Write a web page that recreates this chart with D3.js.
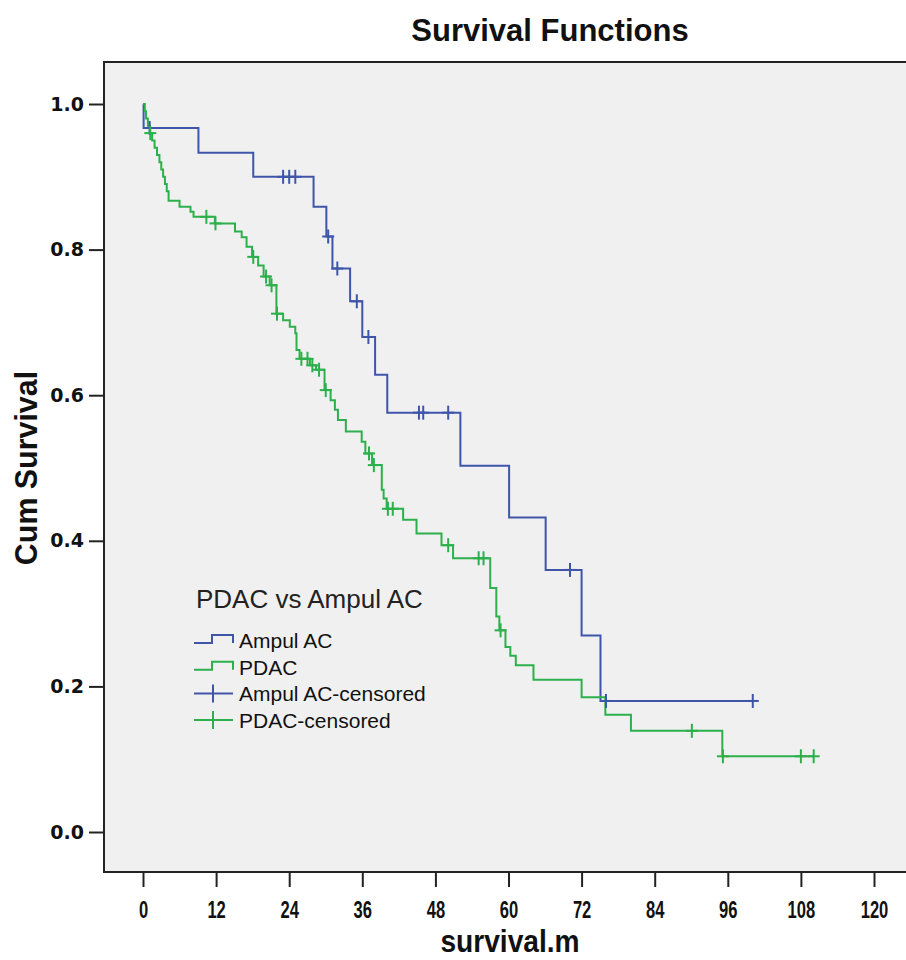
<!DOCTYPE html>
<html>
<head>
<meta charset="utf-8">
<script src="https://cdn.jsdelivr.net/npm/d3@7"></script>
<style>
  body { margin: 0; background: #fff; }
  svg { display: block; }
</style>
</head>
<body>
<div id="chart"></div>
<script>
// data ---------------------------------------------------------------------------------------
// [time (months), cumulative survival] at each step
const ampulSteps = [
  [0, 1.0], [0.1, 0.967], [9.1, 0.933], [18.1, 0.9], [28.0, 0.859], [30.1, 0.818],
  [31.1, 0.774], [34.0, 0.729], [36.0, 0.68], [38.1, 0.628], [40.1, 0.576], [52.1, 0.503],
  [60.1, 0.432], [66.1, 0.36], [72.0, 0.27], [75.1, 0.18]
];
const ampulEnd = 100.1;
const ampulCensored = [
  [1.1, 0.967], [23.0, 0.9], [24.0, 0.9], [25.0, 0.9], [30.4, 0.818], [31.9, 0.774],
  [35.1, 0.729], [37.0, 0.68], [45.3, 0.576], [46.0, 0.576], [50.1, 0.576], [70.1, 0.36],
  [76.0, 0.18], [100.1, 0.18]
];
const pdacSteps = [
  [0, 1.0], [0.3, 0.99], [0.5, 0.98], [0.8, 0.97], [1.1, 0.96], [1.5, 0.95], [1.9, 0.94],
  [2.3, 0.93], [2.7, 0.92], [3.0, 0.91], [3.3, 0.9], [3.6, 0.89], [3.9, 0.88], [4.2, 0.867],
  [6.0, 0.859], [7.8, 0.852], [8.3, 0.845], [11.8, 0.836], [15.1, 0.825], [16.2, 0.817],
  [17.0, 0.804], [17.9, 0.79], [18.9, 0.778], [19.8, 0.763], [20.8, 0.751], [21.9, 0.712],
  [23.0, 0.703], [24.1, 0.694], [25.0, 0.685], [25.2, 0.662], [25.7, 0.65], [27.4, 0.641],
  [28.4, 0.635], [29.8, 0.607], [30.8, 0.593], [31.5, 0.58], [32.0, 0.566], [33.3, 0.55],
  [35.9, 0.536], [36.5, 0.52], [37.6, 0.504], [39.2, 0.47], [39.5, 0.458], [40.0, 0.444],
  [42.7, 0.429], [44.9, 0.41], [49.0, 0.394], [50.9, 0.376], [57.0, 0.335], [58.0, 0.296],
  [58.5, 0.277], [59.5, 0.254], [60.3, 0.242], [61.2, 0.229], [64.1, 0.209], [72.0, 0.185],
  [75.9, 0.161], [80.1, 0.139], [95.1, 0.104]
];
const pdacEnd = 110.1;
const pdacCensored = [
  [1.2, 0.96], [10.4, 0.845], [11.9, 0.836], [18.1, 0.79], [20.2, 0.763], [21.1, 0.751],
  [22.0, 0.712], [26.0, 0.65], [27.0, 0.65], [27.8, 0.641], [28.9, 0.635], [30.0, 0.607],
  [37.1, 0.52], [37.9, 0.504], [40.2, 0.444], [41.0, 0.444], [50.1, 0.394], [55.1, 0.376],
  [55.9, 0.376], [58.7, 0.277], [90.1, 0.139], [95.2, 0.104], [108.0, 0.104], [110.1, 0.104]
];
const xTicks = [0, 12, 24, 36, 48, 60, 72, 84, 96, 108, 120];
const yTicks = [0, 0.2, 0.4, 0.6, 0.8, 1.0];
const legendItems = ['Ampul AC', 'PDAC', 'Ampul AC-censored', 'PDAC-censored'];

// sizes --------------------------------------------------------------------------------------
const width = 906, height = 960;
const frame = {left: 104, top: 62, right: 1000, bottom: 872};
const blue = '#3f55aa';
const green = '#2cb04b';
const arial = '"Liberation Sans", Arial, sans-serif';

const x = d3.scaleLinear().domain([0, 120]).range([143, 874]);
const y = d3.scaleLinear().domain([0, 1]).range([832, 104]);

const svg = d3.select('#chart').append('svg')
  .attr('width', width)
  .attr('height', height)
  .attr('viewBox', '0 0 ' + width + ' ' + height);

// plot area ----------------------------------------------------------------------------------
svg.append('rect')
  .attr('x', frame.left)
  .attr('y', frame.top)
  .attr('width', frame.right - frame.left)
  .attr('height', frame.bottom - frame.top)
  .attr('fill', '#f0f0f0')
  .attr('stroke', '#222')
  .attr('stroke-width', 2);

// axes ---------------------------------------------------------------------------------------
const yAxis = svg.append('g')
  .attr('transform', 'translate(' + frame.left + ',0)')
  .call(d3.axisLeft(y).tickValues(yTicks).tickFormat(d3.format('.1f')).tickSize(15).tickPadding(5));
yAxis.select('.domain').remove();
yAxis.selectAll('line').attr('stroke', '#222').attr('stroke-width', 2);
yAxis.selectAll('text')
  .attr('font-family', '"DejaVu Sans", Verdana, sans-serif')
  .attr('font-weight', 'bold')
  .attr('font-size', '19px')
  .attr('fill', '#111');

const xAxis = svg.append('g')
  .attr('transform', 'translate(0,' + (frame.bottom + 1) + ')')
  .call(d3.axisBottom(x).tickValues(xTicks).tickSize(14).tickPadding(15));
xAxis.select('.domain').remove();
xAxis.selectAll('line').attr('stroke', '#222').attr('stroke-width', 2);
xAxis.selectAll('text')
  .attr('font-family', arial)
  .attr('font-weight', 'bold')
  .attr('font-size', '23px')
  .attr('transform', 'scale(0.72,1)')
  .attr('fill', '#111');

// titles -------------------------------------------------------------------------------------
svg.append('text')
  .attr('x', 550)
  .attr('y', 41)
  .attr('text-anchor', 'middle')
  .attr('font-family', arial)
  .attr('font-weight', 'bold')
  .attr('font-size', '31px')
  .attr('fill', '#111')
  .text('Survival Functions');

svg.append('text')
  .attr('transform', 'translate(37,468) rotate(-90) scale(0.95,1)')
  .attr('text-anchor', 'middle')
  .attr('font-family', arial)
  .attr('font-weight', 'bold')
  .attr('font-size', '32px')
  .attr('fill', '#111')
  .text('Cum Survival');

svg.append('text')
  .attr('transform', 'translate(510,952) scale(0.88,1)')
  .attr('text-anchor', 'middle')
  .attr('font-family', arial)
  .attr('font-weight', 'bold')
  .attr('font-size', '32px')
  .attr('fill', '#111')
  .text('survival.m');

// curves -------------------------------------------------------------------------------------
const line = d3.line()
  .x(d => x(d[0]))
  .y(d => y(d[1]))
  .curve(d3.curveStepAfter);

const series = [
  {steps: ampulSteps, end: ampulEnd, censored: ampulCensored, color: blue},
  {steps: pdacSteps, end: pdacEnd, censored: pdacCensored, color: green}
];

series.forEach(s => {
  const pts = s.steps.concat([[s.end, s.steps[s.steps.length - 1][1]]]);
  svg.append('path')
    .datum(pts)
    .attr('fill', 'none')
    .attr('stroke', s.color)
    .attr('stroke-width', 2)
    .attr('d', line);
});

// censor marks -------------------------------------------------------------------------------
series.forEach(s => {
  const g = svg.append('g')
    .attr('stroke', s.color)
    .attr('stroke-width', 2);
  const mark = g.selectAll('g')
    .data(s.censored)
    .enter()
    .append('g')
    .attr('transform', d => 'translate(' + x(d[0]) + ',' + y(d[1]) + ')');
  mark.append('line').attr('x1', 0).attr('x2', 0).attr('y1', -7).attr('y2', 7);
  mark.append('line').attr('x1', -6).attr('x2', 6).attr('y1', 0).attr('y2', 0);
});

// legend -------------------------------------------------------------------------------------
const legend = svg.append('g');
legend.append('text')
  .attr('x', 196)
  .attr('y', 608)
  .attr('font-family', arial)
  .attr('font-size', '26px')
  .attr('fill', '#222')
  .text('PDAC vs Ampul AC');

const rowH = 26.7;
const legendColors = [blue, green, blue, green];
const item = legend.selectAll('g.item')
  .data(legendItems)
  .enter()
  .append('g')
  .attr('class', 'item')
  .attr('transform', (d, i) => 'translate(0,' + (648 + i * rowH) + ')');

item.append('text')
  .attr('x', 239)
  .attr('y', 0)
  .attr('font-family', arial)
  .attr('font-size', '21px')
  .attr('fill', '#111')
  .text(d => d);

item.filter((d, i) => i < 2)
  .append('path')
  .attr('fill', 'none')
  .attr('stroke', (d, i) => legendColors[i])
  .attr('stroke-width', 2)
  .attr('d', 'M194,-5H212V-13H233V-5');

item.filter((d, i) => i >= 2)
  .each(function (d, i) {
    const g = d3.select(this).append('g')
      .attr('stroke', legendColors[i + 2])
      .attr('stroke-width', 2);
    g.append('line').attr('x1', 194).attr('x2', 233).attr('y1', -8).attr('y2', -8);
    g.append('line').attr('x1', 213).attr('x2', 213).attr('y1', -17).attr('y2', 1);
  });
</script>
</body>
</html>
